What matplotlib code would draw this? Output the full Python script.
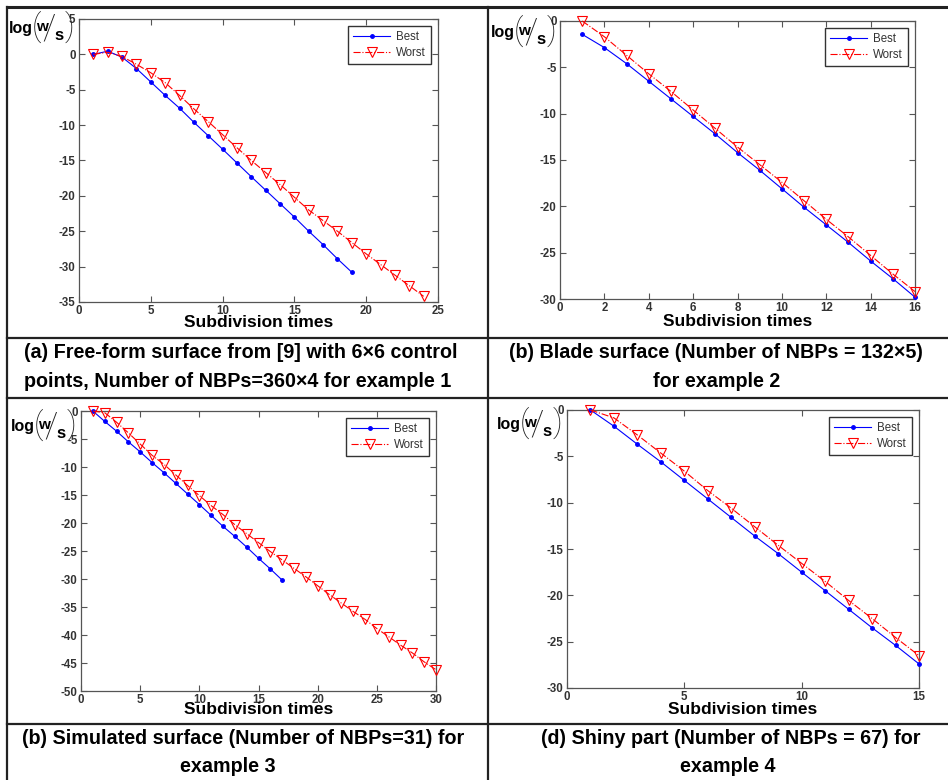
import matplotlib
matplotlib.use("Agg")
import matplotlib.pyplot as plt
from matplotlib.lines import Line2D

plt.rcParams['font.family'] = ['Liberation Sans', 'DejaVu Sans']
plt.rcParams['axes.unicode_minus'] = False

W, H = 948, 780

# ---------------- data ----------------
a_best_x = list(range(1, 20))
a_best_y = [0.0, 0.45, -0.4, -2.0, -3.9, -5.8, -7.6, -9.6, -11.5, -13.4, -15.35,
            -17.3, -19.2, -21.1, -23.0, -25.0, -26.9, -28.9, -30.8]
a_worst_x = list(range(1, 25))
a_worst_y = [0.0, 0.3, -0.3, -1.4, -2.6, -4.0, -5.8, -7.7, -9.5, -11.35, -13.2,
             -15.0, -16.7, -18.4, -20.2, -22.0, -23.5, -25.0, -26.6, -28.2,
             -29.7, -31.2, -32.7, -34.2]

b_best_x = list(range(1, 17))
b_best_y = [-1.44, -2.87, -4.6, -6.5, -8.4, -10.3, -12.2, -14.2, -16.1, -18.1,
            -20.1, -22.0, -23.9, -25.9, -27.8, -29.8]
b_worst_x = list(range(1, 17))
b_worst_y = [0.0, -1.7, -3.7, -5.7, -7.6, -9.6, -11.6, -13.6, -15.5, -17.4,
             -19.4, -21.4, -23.3, -25.3, -27.3, -29.2]

c_best_x = list(range(1, 18))
c_best_y = [0.0, -1.85, -3.6, -5.5, -7.3, -9.2, -11.0, -12.9, -14.8, -16.7,
            -18.65, -20.6, -22.4, -24.3, -26.3, -28.2, -30.2]
c_worst_x = list(range(1, 31))
c_worst_y = [0.0, -0.3, -2.0, -3.9, -5.9, -7.9, -9.5, -11.4, -13.3, -15.1,
             -16.9, -18.5, -20.3, -21.9, -23.5, -25.1, -26.6, -28.1, -29.6,
             -31.2, -32.8, -34.3, -35.8, -37.2, -38.85, -40.3, -41.8, -43.2,
             -44.8, -46.2]

d_best_x = list(range(1, 16))
d_best_y = [0.0, -1.75, -3.7, -5.6, -7.6, -9.6, -11.6, -13.6, -15.5, -17.5,
            -19.5, -21.5, -23.5, -25.4, -27.4]
d_worst_x = list(range(1, 16))
d_worst_y = [0.0, -0.85, -2.7, -4.65, -6.6, -8.7, -10.6, -12.6, -14.6, -16.55,
             -18.5, -20.55, -22.5, -24.55, -26.5]

x_label = "Subdivision times"
legend_labels = ["Best", "Worst"]

caption_a = ["(a) Free-form surface from [9] with 6\u00d76 control",
             "points, Number of NBPs=360\u00d74 for example 1"]
caption_b = ["(b) Blade surface (Number of NBPs = 132\u00d75)", "for example 2"]
caption_c = ["(b) Simulated surface (Number of NBPs=31) for", "example 3"]
caption_d = ["(d) Shiny part (Number of NBPs = 67) for", "example 4"]

# ---------------- layout helpers ----------------
fig = plt.figure(figsize=(W / 100, H / 100), dpi=100)
fig.patch.set_facecolor('white')


def fx(x):
    return x / W


def fy(y):
    return 1 - y / H


def add_ax(left, right, top, bottom):
    return fig.add_axes([fx(left), fy(bottom), (right - left) / W, (bottom - top) / H])


TICK_C = '#333333'
SPINE_C = '#555555'


def style_axes(ax, xlim, xticks, ylim, yticks, xlabel_off, ax_h):
    ax.set_xlim(*xlim)
    ax.set_ylim(*ylim)
    ax.set_xticks(xticks)
    ax.set_yticks(yticks)
    for s in ax.spines.values():
        s.set_color(SPINE_C)
        s.set_linewidth(0.9)
    ax.tick_params(direction='in', length=4, width=0.8, color=SPINE_C,
                   top=True, right=True, labelsize=8.3, labelcolor=TICK_C, pad=2.5)
    for lab in ax.get_xticklabels() + ax.get_yticklabels():
        lab.set_fontweight('bold')
    ax.set_xlabel(x_label, fontsize=12.5, fontweight='bold', color='black', va='center')
    ax.xaxis.set_label_coords(0.5, -xlabel_off / ax_h)


def plot_panel(ax, bx, by, wx, wy):
    ax.plot(bx, by, color='#0000ff', lw=0.8, marker='.', ms=5,
            label=legend_labels[0], clip_on=False, zorder=3)
    ax.plot(wx, wy, color='#ff0000', lw=0.8, ls='-.', marker='v', ms=7.5,
            mfc='none', mec='#ff0000', mew=0.8, label=legend_labels[1],
            clip_on=False, zorder=3)
    leg = ax.legend(loc='upper right', fontsize=8.3, frameon=True, fancybox=False,
                    edgecolor='#333333', framealpha=1, handlelength=3.2,
                    handletextpad=0.5, borderpad=0.45, labelspacing=0.35,
                    borderaxespad=0.6)
    leg.get_frame().set_linewidth(1.0)
    leg.set_zorder(5)
    for t in leg.get_texts():
        t.set_color('#333333')


THIN = ['Roboto', 'Open Sans', 'DejaVu Sans']


def ylabel(x0, y0):
    # composite log(w/s) label; offsets in pixels from origin (x0, y0)
    fig.text(fx(x0 + 1), fy(y0 + 21), "log", fontsize=11.5, fontweight='bold',
             ha='left', va='baseline')
    fig.text(fx(x0 + 28), fy(y0 + 15), "(", fontsize=23, fontweight='light',
             family=THIN, ha='center', va='center', color='#222222')
    fig.text(fx(x0 + 34), fy(y0 + 19), "w", fontsize=11, fontweight='bold',
             ha='center', va='baseline')
    fig.text(fx(x0 + 41), fy(y0 + 16.5), "/", fontsize=25, fontweight='light',
             family=THIN, ha='center', va='center', color='#222222')
    fig.text(fx(x0 + 51), fy(y0 + 28), "s", fontsize=12, fontweight='bold',
             ha='center', va='baseline')
    fig.text(fx(x0 + 61), fy(y0 + 15), ")", fontsize=23, fontweight='light',
             family=THIN, ha='center', va='center', color='#222222')


# ---------------- panels ----------------
ax_a = add_ax(79, 438, 19, 302)
plot_panel(ax_a, a_best_x, a_best_y, a_worst_x, a_worst_y)
style_axes(ax_a, (0, 25), range(0, 26, 5), (-35, 5), range(-35, 6, 5), 21, 302 - 19)

ax_b = add_ax(560, 915, 21, 299)
plot_panel(ax_b, b_best_x, b_best_y, b_worst_x, b_worst_y)
style_axes(ax_b, (0, 16), range(0, 17, 2), (-30, 0), range(-30, 1, 5), 23, 299 - 21)

ax_c = add_ax(81, 436, 411, 691)
plot_panel(ax_c, c_best_x, c_best_y, c_worst_x, c_worst_y)
style_axes(ax_c, (0, 30), range(0, 31, 5), (-50, 0), range(-50, 1, 5), 18, 691 - 411)

ax_d = add_ax(567, 919, 410, 688)
plot_panel(ax_d, d_best_x, d_best_y, d_worst_x, d_worst_y)
style_axes(ax_d, (0, 15), range(0, 16, 5), (-30, 0), range(-30, 1, 5), 22, 688 - 410)

ylabel(8, 12)
ylabel(490, 16)
ylabel(10, 410)
ylabel(496, 408)

# ---------------- captions ----------------
CAP_FS = 14.2


def cap(x, y, s, ha):
    fig.text(fx(x), fy(y), s, fontsize=CAP_FS, fontweight='bold', ha=ha, va='center')


cap(24, 353, caption_a[0], 'left')
cap(24, 381, caption_a[1], 'left')
cap(716, 353, caption_b[0], 'center')
cap(717, 381, caption_b[1], 'center')
cap(243, 739, caption_c[0], 'center')
cap(228, 766, caption_c[1], 'center')
cap(731, 739, caption_d[0], 'center')
cap(728, 766, caption_d[1], 'center')

# ---------------- table borders ----------------
LC = '#222222'


def hline(y, x0, x1, lw=1.6):
    fig.add_artist(Line2D([fx(x0), fx(x1)], [fy(y), fy(y)], color=LC, lw=lw))


def vline(x, y0, y1, lw=1.6):
    fig.add_artist(Line2D([fx(x), fx(x)], [fy(y0), fy(y1)], color=LC, lw=lw))


hline(7, 7, 948, lw=2.2)
hline(338, 7, 948)
hline(398, 7, 948)
hline(724, 7, 948)
vline(7, 7, 780)
vline(488, 7, 780)

fig.savefig("out.png", dpi=100)
